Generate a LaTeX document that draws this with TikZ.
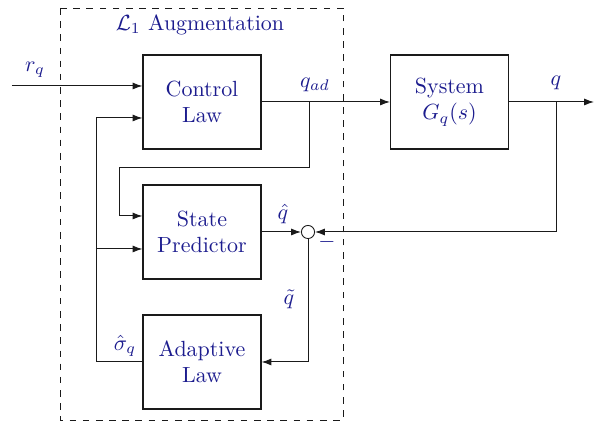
\documentclass[tikz,border=0pt]{standalone}
\usepackage{amsmath}
\usepackage{tikz}
\usetikzlibrary{arrows.meta, calc, positioning}
\definecolor{lNavy}{HTML}{1C1C8E}
\definecolor{lInk}{HTML}{1A1A1A}

\begin{document}
\begin{tikzpicture}[x=0.016cm, y=-0.016cm, >={Latex[length=4.5pt, width=3.2pt]},
    block/.style={draw=lInk, line width=0.5pt, minimum width=1.888cm, minimum height=1.504cm,
                  align=center, text=lNavy, inner sep=0pt},
    sumnode/.style={draw=lInk, circle, fill=white, minimum size=0.21cm, inner sep=0pt},
    lbl/.style={text=lNavy},
    wire/.style={draw=lInk, line width=0.45pt}]
  \useasboundingbox (0,0) rectangle (594,421);
  % L1 augmentation frame
  \draw[lInk, dashed, line width=0.4pt] (60,8) rectangle (343,420);
  \node[lbl] (title) at (200,25) {$\mathcal{L}_1$ Augmentation};
  % blocks
  \node[block] (ctrl)  at (202,102)   {Control\\Law};
  \node[block] (sys)   at (449.5,102) {System\\$G_q(s)$};
  \node[block] (pred)  at (202,232)   {State\\Predictor};
  \node[block] (adapt) at (202,362)   {Adaptive\\Law};
  \node[sumnode] (sum) at (308,232) {};
  % helper points
  \coordinate (rin)   at (12,86);
  \coordinate (qadbr) at (309,102);
  \coordinate (qbr)   at (556,102);
  \coordinate (qout)  at (594,102);
  \coordinate (fbx)   at (96,362);
  \coordinate (fbmid) at (96,249);
  % reference and control signal
  \draw[wire, ->] (rin) -- (rin -| ctrl.west);
  \draw[wire, ->] (ctrl.east) -- (sys.west);
  \draw[wire, ->] (sys.east) -- (qout);
  % q_ad into predictor
  \draw[wire, ->] (qadbr) -- (309,168) -- (119,168) -- (119,216) -- (pred.west |- 0,216);
  % output feedback into the sum
  \draw[wire, ->] (qbr) |- (sum.east);
  \draw[wire, ->] (pred.east) -- (sum.west);
  \draw[wire, ->] (sum.south) |- (adapt.east);
  % adaptive estimate back to control law and predictor
  \draw[wire, ->] (adapt.west) -- (fbx) -- (96,118) -- (ctrl.west |- 0,118);
  \draw[wire, ->] (fbmid) -- (pred.west |- fbmid);
  % signal labels
  \node[lbl] (lr)   at (35,70)   {$r_q$};
  \node[lbl] (lqad) at (315,85)  {$q_{ad}$};
  \node[lbl] (lq)   at (556,83)  {$q$};
  \node[lbl] (lqh)  at (283,214) {$\hat{q}$};
  \node[lbl] (lmin) at (327,242) {$-$};
  \node[lbl] (lqt)  at (289,299) {$\tilde{q}$};
  \node[lbl] (lsig) at (125,346) {$\hat{\sigma}_q$};
\end{tikzpicture}
\end{document}
